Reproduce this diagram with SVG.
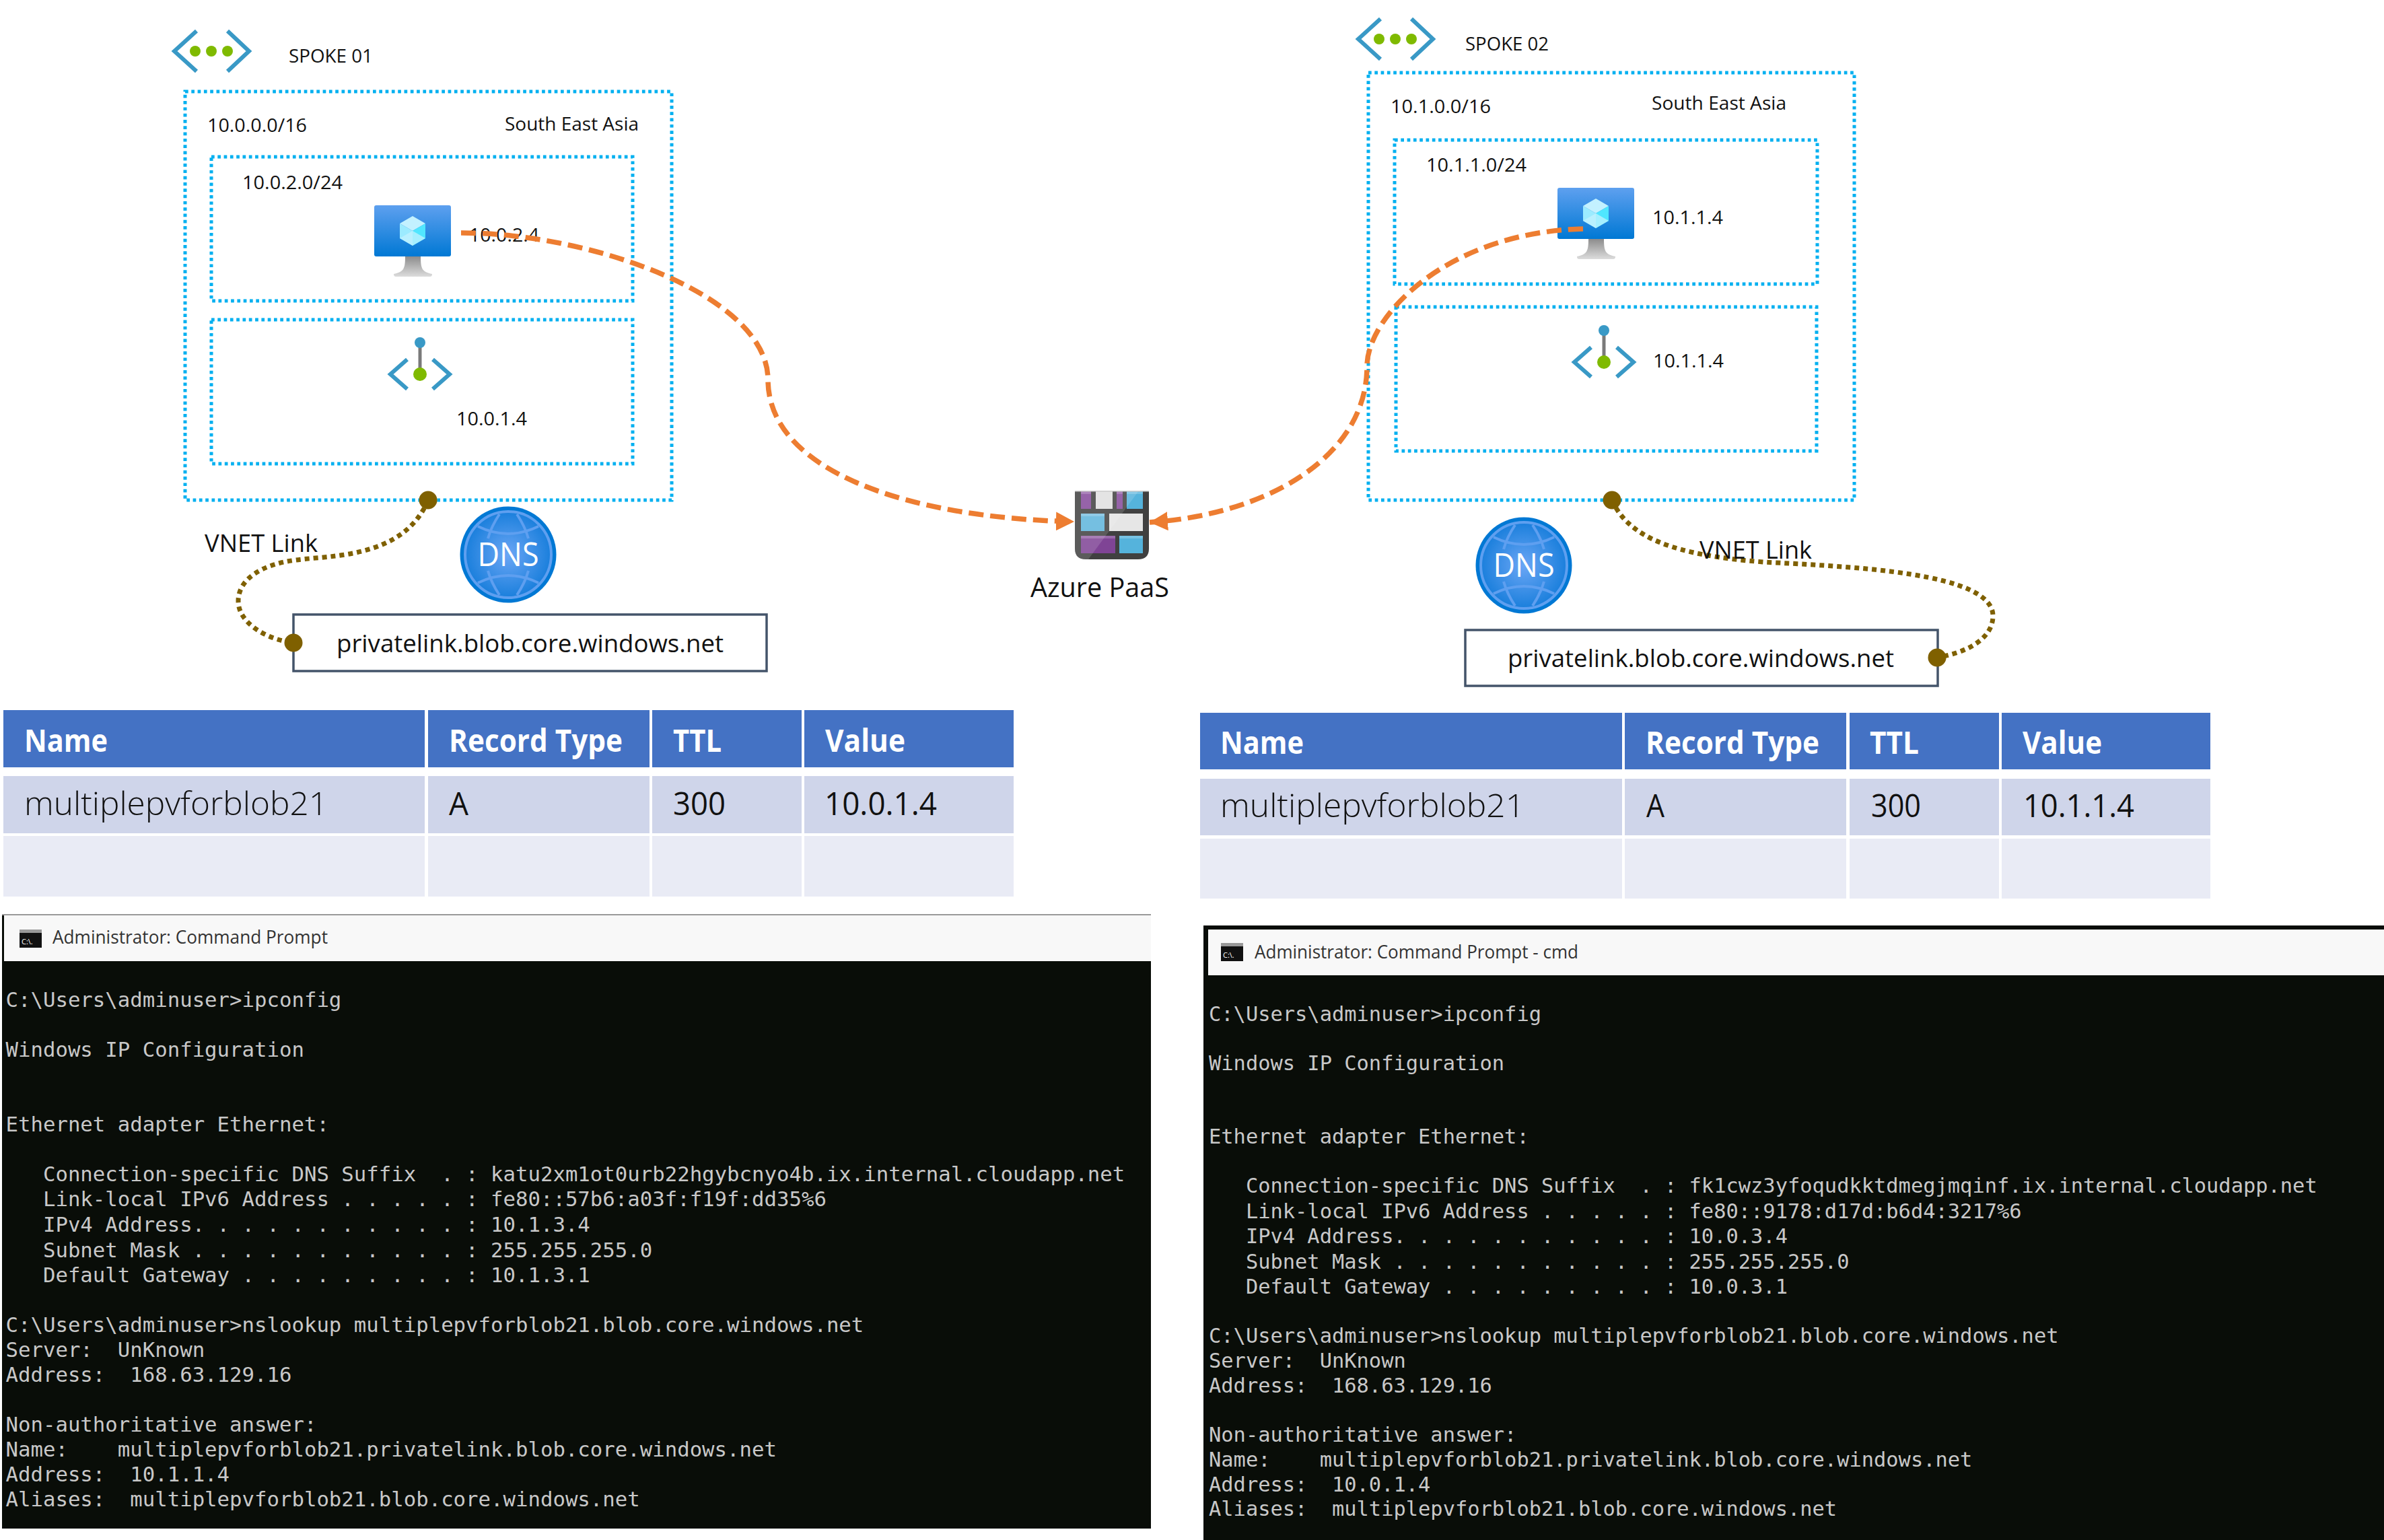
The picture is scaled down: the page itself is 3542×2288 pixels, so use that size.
<svg xmlns="http://www.w3.org/2000/svg" width="3542" height="2288" viewBox="0 0 3542 2288">
<style>
text{font-family:"Open Sans","Liberation Sans",sans-serif;fill:#111}
.lb{font-size:28px}
.lk{font-size:37px}
.box{fill:none;stroke:#00b0f0;stroke-width:5;stroke-dasharray:4.7 4.6}
.zone{fill:#fff;stroke:#44546a;stroke-width:3.5}
.hd{fill:#4472c4}.r1{fill:#cfd5ea}.r2{fill:#e9ebf5}
.th{font-size:46px;font-weight:700;fill:#fff}
.td{font-size:47px;fill:#111}
.tl{font-weight:300;fill:#111}
.t{font-family:"DejaVu Sans Mono","Liberation Mono",monospace;fill:#c8c8c8;white-space:pre}
.t1{font-size:30.7px}.t2{font-size:30.4px}
.title{font-size:28px;fill:#333}
.or{fill:none;stroke:#ed7d31;stroke-width:7.5;stroke-dasharray:22 10}
.br{fill:none;stroke:#7f6000;stroke-width:7;stroke-dasharray:7 6}
.dot{fill:#7f6000}
.ic{fill:none;stroke:#3999c6;stroke-width:6}
.gr{fill:#7fba00}
.hl{fill:#fff;opacity:.2}
.dn{fill:#fff;font-weight:400}
</style>
<defs>
<linearGradient id="scr" x1="0" y1="0" x2="0" y2="1"><stop offset="0" stop-color="#5ea0ef"/><stop offset="1" stop-color="#0078d4"/></linearGradient>
<linearGradient id="std" x1="0" y1="0" x2="0" y2="1"><stop offset="0" stop-color="#8c8c8c"/><stop offset="1" stop-color="#dcdcdc"/></linearGradient>
<radialGradient id="dnsg"><stop offset="0" stop-color="#6ba6f5"/><stop offset="1" stop-color="#1a7fdc"/></radialGradient>
<marker id="arr" markerUnits="userSpaceOnUse" markerWidth="28" markerHeight="28" refX="27" refY="14" orient="auto"><path d="M0,0L27,14L0,28Z" fill="#ed7d31"/></marker>
<g id="vnet"><path class="ic" d="M-22,-30L-55,0L-22,30M24,-30L56,0L24,30"/><circle class="gr" cx="-24" r="8"/><circle class="gr" r="8"/><circle class="gr" cx="24" r="8"/></g>
<g id="vm">
<path d="M46,76C46,94 44,99 29,102Q29,106 32,106H83Q86,106 86,102C71,99 69,94 69,76Z" fill="url(#std)"/>
<rect width="114" height="76" rx="3" fill="url(#scr)"/>
<g transform="translate(57,38)"><path d="M0,-22L19,-11L0,0L-19,-11Z" fill="#c3f1ff"/><path d="M-19,-11L0,0V22L-19,11Z" fill="#9cebff"/><path d="M19,-11L0,0V22L19,11Z" fill="#50e6ff"/><path d="M0,0L19,11L0,22L-19,11Z" fill="#c3f1ff" opacity=".75"/></g>
</g>
<g id="pe"><path class="ic" d="M-19,-22L-44,0L-19,22M19,-22L44,0L19,22" stroke-width="5"/><path d="M0,-47V0" stroke="#7a7a7a" stroke-width="5"/><circle cy="-47" r="8" fill="#3999c6"/><circle r="10" class="gr"/></g>
<g id="dns">
<circle r="71.5" fill="#0078d4"/><circle r="64" fill="url(#dnsg)" stroke="#5e9ff0" stroke-width="4"/>
<g fill="none" stroke="#5e9ff0" stroke-width="4"><path d="M-45,-42Q0,-20 45,-42M-45,42Q0,20 45,42M-13,-60Q-25,-42 -30,-24M13,-60Q25,-42 30,-24M-13,60Q-25,42 -30,24M13,60Q25,42 30,24"/></g>
</g>
<g id="cmd"><rect width="33" height="27" fill="#111"/><rect width="33" height="5" fill="#999"/></g>
</defs>
<rect width="3542" height="2288" fill="#fff"/>

<g id="spoke01">
<use href="#vnet" x="314" y="76"/>
<text class="lb" x="429" y="93" textLength="125" lengthAdjust="spacingAndGlyphs">SPOKE 01</text>
<rect class="box" x="275" y="136" width="723" height="607"/>
<text class="lb" x="308" y="196" textLength="148" lengthAdjust="spacingAndGlyphs">10.0.0.0/16</text>
<text class="lb" x="750" y="194" textLength="199" lengthAdjust="spacingAndGlyphs">South East Asia</text>
</g>
<g id="subnet01a">
<rect class="box" x="314" y="233" width="626" height="214"/>
<text class="lb" x="360" y="281" textLength="149" lengthAdjust="spacingAndGlyphs">10.0.2.0/24</text>
</g>
<g id="vm01"><use href="#vm" x="556" y="305"/><text class="lb" x="697" y="359" textLength="104" lengthAdjust="spacingAndGlyphs">10.0.2.4</text></g>
<g id="subnet01b">
<rect class="box" x="314" y="475" width="626" height="214"/>
<use href="#pe" x="624" y="556"/>
<text class="lb" x="678" y="632" textLength="105" lengthAdjust="spacingAndGlyphs">10.0.1.4</text>
</g>
<g id="dns01"><use href="#dns" x="755" y="824"/><text class="dn" x="755" y="841" text-anchor="middle" font-size="50" textLength="91" lengthAdjust="spacingAndGlyphs">DNS</text></g>
<g id="zone01"><rect class="zone" x="436" y="913" width="703" height="84"/><text class="lk" x="500" y="969" textLength="575" lengthAdjust="spacingAndGlyphs">privatelink.blob.core.windows.net</text></g>

<g id="spoke02">
<use href="#vnet" x="2073" y="58"/>
<text class="lb" x="2177" y="75" textLength="124" lengthAdjust="spacingAndGlyphs">SPOKE 02</text>
<rect class="box" x="2033" y="108" width="722" height="635"/>
<text class="lb" x="2066" y="168" textLength="149" lengthAdjust="spacingAndGlyphs">10.1.0.0/16</text>
<text class="lb" x="2454" y="163" textLength="200" lengthAdjust="spacingAndGlyphs">South East Asia</text>
</g>
<g id="subnet02a">
<rect class="box" x="2072" y="208" width="628" height="214"/>
<text class="lb" x="2119" y="255" textLength="149" lengthAdjust="spacingAndGlyphs">10.1.1.0/24</text>
</g>
<g id="vm02"><use href="#vm" x="2314" y="279"/><text class="lb" x="2455" y="333" textLength="105" lengthAdjust="spacingAndGlyphs">10.1.1.4</text></g>
<g id="subnet02b">
<rect class="box" x="2074" y="456" width="625" height="214"/>
<use href="#pe" x="2383" y="538"/>
<text class="lb" x="2456" y="546" textLength="105" lengthAdjust="spacingAndGlyphs">10.1.1.4</text>
</g>
<g id="dns02"><use href="#dns" x="2264" y="840"/><text class="dn" x="2264" y="857" text-anchor="middle" font-size="50" textLength="91" lengthAdjust="spacingAndGlyphs">DNS</text></g>
<g id="zone02"><rect class="zone" x="2177" y="936" width="702" height="83"/><text class="lk" x="2240" y="991" textLength="574" lengthAdjust="spacingAndGlyphs">privatelink.blob.core.windows.net</text></g>

<g id="paas">
<path d="M1597,729H1707V815Q1707,831 1691,831H1613Q1597,831 1597,815Z" fill="#404040"/>
<rect x="1606" y="730" width="15" height="26" fill="#854a9b"/>
<rect x="1628" y="730" width="25" height="26" fill="#e0e0e0"/>
<rect x="1659" y="730" width="9" height="26" fill="#854a9b"/>
<rect x="1674" y="730" width="24" height="26" fill="#55b3dc"/>
<rect x="1606" y="763" width="35" height="26" fill="#5fb5dd"/>
<rect x="1648" y="763" width="50" height="26" fill="#e6e6e6"/>
<rect x="1606" y="796" width="51" height="26" fill="#7f4495"/>
<rect x="1663" y="796" width="35" height="26" fill="#55b3dc"/>
<path d="M1597,729H1692L1617,831H1613Q1597,831 1597,815Z" fill="#fff" opacity=".14"/>
<rect class="hl" x="1606" y="730" width="15" height="4"/><rect class="hl" x="1659" y="730" width="9" height="4"/><rect class="hl" x="1674" y="730" width="24" height="4"/><rect class="hl" x="1606" y="763" width="35" height="4"/><rect class="hl" x="1606" y="796" width="51" height="4"/><rect class="hl" x="1663" y="796" width="35" height="4"/>
<rect x="1597" y="729" width="110" height="1.5" fill="#ccc"/>
<text x="1531" y="887" font-size="40" textLength="206" lengthAdjust="spacingAndGlyphs">Azure PaaS</text>
</g>

<g id="connectors">
<path class="or" marker-end="url(#arr)" d="M685,346C880,346 1141,440 1141,564C1141,700 1350,770 1596,775"/>
<path class="or" marker-end="url(#arr)" d="M2352,340C2150,345 2031,470 2031,544C2031,680 1880,765 1708,776"/>
<path class="br" d="M636,743C600,830 490,825 440,832C390,838 354,860 354,893C354,925 395,950 436,955"/>
<circle class="dot" cx="636" cy="743" r="13.5"/><circle class="dot" cx="436" cy="955" r="13.5"/>
<text x="304" y="820" font-size="36" textLength="168" lengthAdjust="spacingAndGlyphs">VNET Link</text>
<path class="br" d="M2395,743C2420,800 2490,825 2620,835C2750,842 2961,850 2961,915C2961,950 2920,970 2878,977"/>
<circle class="dot" cx="2395" cy="743" r="13.5"/><circle class="dot" cx="2878" cy="977" r="13.5"/>
<text x="2525" y="830" font-size="36" textLength="167" lengthAdjust="spacingAndGlyphs">VNET Link</text>
</g>

<g id="table1">
<rect class="hd" x="5" y="1055" width="626" height="85"/><rect class="hd" x="636" y="1055" width="329" height="85"/><rect class="hd" x="969" y="1055" width="222" height="85"/><rect class="hd" x="1195" y="1055" width="311" height="85"/>
<rect class="r1" x="5" y="1153" width="626" height="85"/><rect class="r1" x="636" y="1153" width="329" height="85"/><rect class="r1" x="969" y="1153" width="222" height="85"/><rect class="r1" x="1195" y="1153" width="311" height="85"/>
<rect class="r2" x="5" y="1242" width="626" height="90"/><rect class="r2" x="636" y="1242" width="329" height="90"/><rect class="r2" x="969" y="1242" width="222" height="90"/><rect class="r2" x="1195" y="1242" width="311" height="90"/>
<text class="th" x="36" y="1117" textLength="124" lengthAdjust="spacingAndGlyphs">Name</text>
<text class="th" x="667" y="1117" textLength="258" lengthAdjust="spacingAndGlyphs">Record Type</text>
<text class="th" x="1000" y="1117" textLength="72" lengthAdjust="spacingAndGlyphs">TTL</text>
<text class="th" x="1226" y="1117" textLength="119" lengthAdjust="spacingAndGlyphs">Value</text>
<text class="td tl" x="36" y="1211" textLength="451" lengthAdjust="spacingAndGlyphs">multiplepvforblob21</text>
<text class="td" x="667" y="1211" textLength="29" lengthAdjust="spacingAndGlyphs">A</text>
<text class="td" x="1000" y="1211" textLength="78" lengthAdjust="spacingAndGlyphs">300</text>
<text class="td" x="1225" y="1211" textLength="167" lengthAdjust="spacingAndGlyphs">10.0.1.4</text>
</g>

<g id="table2">
<rect class="hd" x="1783" y="1059" width="627" height="84"/><rect class="hd" x="2414" y="1059" width="329" height="84"/><rect class="hd" x="2748" y="1059" width="222" height="84"/><rect class="hd" x="2974" y="1059" width="310" height="84"/>
<rect class="r1" x="1783" y="1157" width="627" height="84"/><rect class="r1" x="2414" y="1157" width="329" height="84"/><rect class="r1" x="2748" y="1157" width="222" height="84"/><rect class="r1" x="2974" y="1157" width="310" height="84"/>
<rect class="r2" x="1783" y="1246" width="627" height="89"/><rect class="r2" x="2414" y="1246" width="329" height="89"/><rect class="r2" x="2748" y="1246" width="222" height="89"/><rect class="r2" x="2974" y="1246" width="310" height="89"/>
<text class="th" x="1813" y="1120" textLength="124" lengthAdjust="spacingAndGlyphs">Name</text>
<text class="th" x="2445" y="1120" textLength="258" lengthAdjust="spacingAndGlyphs">Record Type</text>
<text class="th" x="2778" y="1120" textLength="73" lengthAdjust="spacingAndGlyphs">TTL</text>
<text class="th" x="3005" y="1120" textLength="118" lengthAdjust="spacingAndGlyphs">Value</text>
<text class="td tl" x="1813" y="1214" textLength="452" lengthAdjust="spacingAndGlyphs">multiplepvforblob21</text>
<text class="td" x="2446" y="1214" textLength="27" lengthAdjust="spacingAndGlyphs">A</text>
<text class="td" x="2780" y="1214" textLength="74" lengthAdjust="spacingAndGlyphs">300</text>
<text class="td" x="3006" y="1214" textLength="165" lengthAdjust="spacingAndGlyphs">10.1.1.4</text>
</g>

<g id="terminal1" xml:space="preserve">
<rect x="3" y="1358" width="1707" height="913" fill="#090d08"/>
<rect x="6" y="1360" width="1704" height="68" fill="#f8f8f8"/>
<rect x="3" y="1358" width="1707" height="2" fill="#999"/>
<use href="#cmd" x="29" y="1381"/>
<text x="32" y="1403" font-size="11" style="fill:#fff">C:\.</text>
<text class="title" x="78" y="1402" textLength="409" lengthAdjust="spacingAndGlyphs">Administrator: Command Prompt</text>
<text class="t t1" x="8.5" y="1496">C:\Users\adminuser&gt;ipconfig</text>
<text class="t t1" x="8.5" y="1570">Windows IP Configuration</text>
<text class="t t1" x="8.5" y="1681">Ethernet adapter Ethernet:</text>
<text class="t t1" x="8.5" y="1755">   Connection-specific DNS Suffix  . : katu2xm1ot0urb22hgybcnyo4b.ix.internal.cloudapp.net</text>
<text class="t t1" x="8.5" y="1792">   Link-local IPv6 Address . . . . . : fe80::57b6:a03f:f19f:dd35%6</text>
<text class="t t1" x="8.5" y="1830">   IPv4 Address. . . . . . . . . . . : 10.1.3.4</text>
<text class="t t1" x="8.5" y="1868">   Subnet Mask . . . . . . . . . . . : 255.255.255.0</text>
<text class="t t1" x="8.5" y="1905">   Default Gateway . . . . . . . . . : 10.1.3.1</text>
<text class="t t1" x="8.5" y="1979">C:\Users\adminuser&gt;nslookup multiplepvforblob21.blob.core.windows.net</text>
<text class="t t1" x="8.5" y="2016">Server:  UnKnown</text>
<text class="t t1" x="8.5" y="2053">Address:  168.63.129.16</text>
<text class="t t1" x="8.5" y="2127">Non-authoritative answer:</text>
<text class="t t1" x="8.5" y="2164">Name:    multiplepvforblob21.privatelink.blob.core.windows.net</text>
<text class="t t1" x="8.5" y="2201">Address:  10.1.1.4</text>
<text class="t t1" x="8.5" y="2238">Aliases:  multiplepvforblob21.blob.core.windows.net</text>
</g>

<g id="terminal2" xml:space="preserve">
<rect x="1788" y="1375" width="1754" height="913" fill="#090d08"/>
<rect x="1795" y="1381" width="1747" height="68" fill="#f8f8f8"/>
<use href="#cmd" x="1814" y="1401"/>
<text x="1817" y="1423" font-size="11" style="fill:#fff">C:\.</text>
<text class="title" x="1864" y="1424" textLength="481" lengthAdjust="spacingAndGlyphs">Administrator: Command Prompt - cmd</text>
<text class="t t2" x="1796" y="1517">C:\Users\adminuser&gt;ipconfig</text>
<text class="t t2" x="1796" y="1590">Windows IP Configuration</text>
<text class="t t2" x="1796" y="1699">Ethernet adapter Ethernet:</text>
<text class="t t2" x="1796" y="1772">   Connection-specific DNS Suffix  . : fk1cwz3yfoqudkktdmegjmqinf.ix.internal.cloudapp.net</text>
<text class="t t2" x="1796" y="1810">   Link-local IPv6 Address . . . . . : fe80::9178:d17d:b6d4:3217%6</text>
<text class="t t2" x="1796" y="1847">   IPv4 Address. . . . . . . . . . . : 10.0.3.4</text>
<text class="t t2" x="1796" y="1885">   Subnet Mask . . . . . . . . . . . : 255.255.255.0</text>
<text class="t t2" x="1796" y="1922">   Default Gateway . . . . . . . . . : 10.0.3.1</text>
<text class="t t2" x="1796" y="1995">C:\Users\adminuser&gt;nslookup multiplepvforblob21.blob.core.windows.net</text>
<text class="t t2" x="1796" y="2032">Server:  UnKnown</text>
<text class="t t2" x="1796" y="2069">Address:  168.63.129.16</text>
<text class="t t2" x="1796" y="2142">Non-authoritative answer:</text>
<text class="t t2" x="1796" y="2179">Name:    multiplepvforblob21.privatelink.blob.core.windows.net</text>
<text class="t t2" x="1796" y="2216">Address:  10.0.1.4</text>
<text class="t t2" x="1796" y="2252">Aliases:  multiplepvforblob21.blob.core.windows.net</text>
</g>
</svg>
